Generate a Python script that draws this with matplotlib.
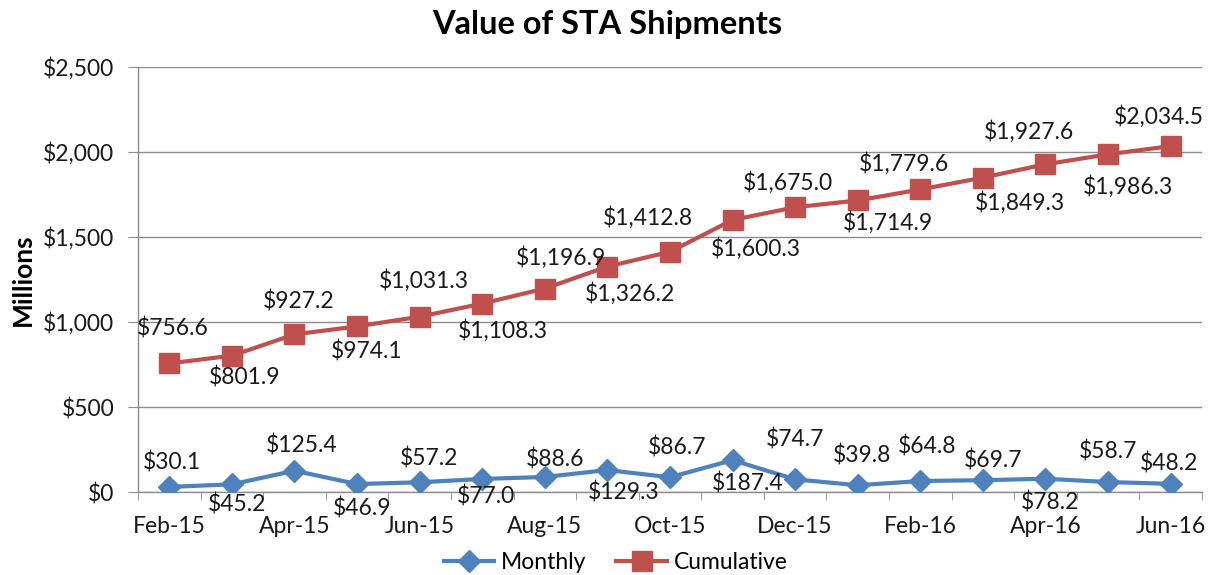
import matplotlib
matplotlib.use("Agg")
import matplotlib.pyplot as plt
from matplotlib.ticker import FuncFormatter, FixedLocator

months = ["Feb-15", "Mar-15", "Apr-15", "May-15", "Jun-15", "Jul-15", "Aug-15",
          "Sep-15", "Oct-15", "Nov-15", "Dec-15", "Jan-16", "Feb-16", "Mar-16",
          "Apr-16", "May-16", "Jun-16"]
monthly = [30.1, 45.2, 125.4, 46.9, 57.2, 77.0, 88.6, 129.3, 86.7, 187.4,
           74.7, 39.8, 64.8, 69.7, 78.2, 58.7, 48.2]
cumulative = [756.6, 801.9, 927.2, 974.1, 1031.3, 1108.3, 1196.9, 1326.2,
              1412.8, 1600.3, 1675.0, 1714.9, 1779.6, 1849.3, 1927.6, 1986.3, 2034.5]

# label offsets in pixels (dx, dy) relative to each point; dy positive = up
monthly_off = [(3, 24), (5, -20), (7, 25), (5, -24), (9, 24), (4, -18), (10, 17),
               (16, -22), (7, 30), (15, -23), (0, 40), (4, 30), (7, 35), (10, 20),
               (5, -24), (0, 31), (-2, 20)]
cum_off = [(3, 35), (13, -22), (4, 33), (10, -25), (4, 36), (21, -27), (16, 31),
           (23, -27), (-22, 34), (23, -29), (-7, 25), (30, -22), (-16, 26),
           (37, -25), (-16, 33), (20, -32), (-12, 30)]

BLUE = "#4F81BD"
RED = "#C0504D"
TXT = "#1a1a1a"
FONT = ["Lato", "DejaVu Sans"]
plt.rcParams["font.family"] = FONT

fig = plt.figure(figsize=(12.14, 5.75), dpi=100)
ax = fig.add_axes([0.1137, 0.1443, 0.8763, 0.7392])

x = list(range(len(months)))
ax.plot(x, monthly, color=BLUE, lw=3, marker="D", markersize=11.5,
        label="Monthly", zorder=3)
ax.plot(x, cumulative, color=RED, lw=3, marker="s", markersize=14.5,
        label="Cumulative", zorder=3)

for i, v in enumerate(monthly):
    dx, dy = monthly_off[i]
    ax.annotate(f"${v:,.1f}", (i, v), xytext=(dx, dy), textcoords="offset pixels",
                ha="center", va="center", fontsize=16.5, color=TXT, zorder=4)
for i, v in enumerate(cumulative):
    dx, dy = cum_off[i]
    ax.annotate(f"${v:,.1f}", (i, v), xytext=(dx, dy), textcoords="offset pixels",
                ha="center", va="center", fontsize=16.5, color=TXT, zorder=4)

ax.set_xlim(-0.5, len(months) - 0.5)
ax.set_ylim(0, 2500)
ax.set_yticks([0, 500, 1000, 1500, 2000, 2500])
ax.yaxis.set_major_formatter(FuncFormatter(lambda v, p: f"${v:,.0f}"))
ax.grid(axis="y", color="#8c8c8c", lw=1)
ax.set_axisbelow(True)

ax.set_xticks(x[::2])
ax.set_xticklabels(months[::2])
ax.xaxis.set_minor_locator(FixedLocator([i - 0.5 for i in range(len(months) + 1)]))
ax.tick_params(axis="x", which="major", length=0, pad=17, labelsize=16.5, labelcolor=TXT)
ax.tick_params(axis="x", which="minor", length=6, color="#8c8c8c", direction="out")
ax.tick_params(axis="y", length=7, color="#8c8c8c", labelsize=16.5, labelcolor=TXT, pad=10)

for s in ["top", "right"]:
    ax.spines[s].set_visible(False)
for s in ["left", "bottom"]:
    ax.spines[s].set_color("#8c8c8c")
    ax.spines[s].set_linewidth(1)

ax.set_ylabel("Millions", fontsize=19, fontweight="bold", labelpad=6)
fig.suptitle("Value of STA Shipments", fontsize=23.5, fontweight="bold", y=0.982)

ax.legend(loc="center", bbox_to_anchor=(0.449, -0.165), ncol=2, frameon=False,
          fontsize=16.5, handlelength=2.2, columnspacing=1.3, handletextpad=0.3)

fig.savefig("out.png", dpi=100)
